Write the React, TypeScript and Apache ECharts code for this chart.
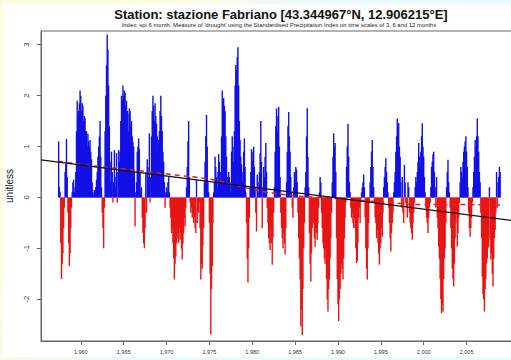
import React, { useEffect, useRef } from "react";
import * as echarts from "echarts";

// Monthly SPI-6 values, first value = June 1957
const START_YEAR = 1957;
const START_MONTH = 5; // 0-based month index (June)

const spi1957to1966 = [
  1.1, 0.2, 0.1, -0.9, -1.6, -1.3, -1.1,
  -0.6, -0.2, 0.5, 0.65, 1.15, 0.4, -0.3, -0.9, -1.35, -1.1, -0.6, -0.2,
  0.1, 0.3, 0.35, 0.1, 0.2, 0.5, 1.3, 1.9, 1.6, 1.7, 1.85, 2.1,
  2.0, 1.7, 1.85, 1.8, 1.5, 1.6, 1.55, 1.3, 1.3, 1.0, 1.25, 1.1,
  1.0, 1.13, 0.9, 0.75, 0.3, 0.1, 0.05, 0.15, 0.1, 0.2, 0.35, 0.5,
  0.8, 1.0, 1.2, 1.5, 0.8, 0.2, -0.3, -0.6, -1.0, -0.2, 1.3, 2.0,
  2.6, 3.2, 2.9, 2.2, 1.4, 0.7, 0.3, 0.9, 0.5, -0.1, 0.3, 0.93,
  0.4, 0.2, 0.87, -0.1, 0.5, 0.93, 0.7, 0.9, 1.5, 2.0, 1.9, 2.2,
  2.0, 2.1, 2.05, 1.8, 1.9, 1.7, 1.65, 1.3, 1.75, 1.7, 1.4, 1.5,
  1.2, 1.1, 1.0, 0.5, -0.57, 0.1, 0.3, 0.9, 1.0, 1.16, 0.95, 0.5,
];

const spi1967to1976 = [
  0.1, 0.2, -0.4, -0.7, -0.9, -1.0, -0.6, 0.5, -0.3, 0.75, 0.6, 0.4,
  1.26, -0.1, 0.4, 1.2, 1.7, 2.0, 1.8, 1.5, 1.85, 1.6, 1.45, 1.2,
  1.0, 1.13, 1.3, 1.7, 2.0, 1.6, 1.3, 0.9, 0.7, 0.3, -0.2, 0.1,
  0.2, 0.1, 0.3, 0.4, 0.1, -0.2, -0.4, -0.7, -0.6, -0.9, -1.2, -1.61,
  -1.3, -1.16, -0.9, -0.7, -0.8, -0.9, -0.6, -0.83, -0.7, -1.0, -1.22, -0.9,
  -0.7, -0.4, -0.57, -0.2, 0.2, 0.6, 1.1, 1.5, 0.4, -0.1, -0.3, -0.2,
  -0.4, -0.3, -0.5, -0.4, -0.6, -0.7, 0.35, -0.5, -0.3, -0.3, -0.1, -0.6,
  -1.61, -1.3, -1.4, -0.95, -0.6, 0.3, 0.7, 1.2, 1.62, 1.0, 0.3, 0.1,
  -0.5, -1.5, -2.69, -1.8, -1.35, -0.5, 0.1, 0.3, 0.8, 0.6, 0.4, 0.2,
  0.5, 0.85, 0.7, 0.3, 0.5, 1.2, 2.1, 1.9, 1.95, 1.8, 1.7, 1.2,
];

const spi1977to1986 = [
  0.8, 0.4, 0.2, 0.5, 0.4, 0.3, 0.1, 0.9, 1.2, 1.0, 0.7, 1.3,
  2.2, 2.6, 2.5, 2.76, 2.95, 2.2, 1.5, 1.13, 0.8, 0.65, 0.3, 0.5,
  0.9, 1.16, 0.6, 0.1, -0.5, -1.2, -1.67, -1.0, -0.4, 0.2, 0.5, 0.95,
  0.7, 0.9, 1.0, 0.6, 0.2, -0.3, -0.67, 0.45, 0.3, 0.1, 0.5, 0.87,
  1.5, 0.7, -0.6, 0.2, 0.6, 0.4, 0.8, 1.07, 0.5, -0.2, -0.5, -0.8,
  -0.9, -1.03, -0.6, -0.9, -1.32, -0.8, -0.3, 0.2, 0.9, 1.4, 1.75, 1.3,
  1.6, 1.78, 1.0, 0.4, -0.3, -0.6, -0.8, -1.0, -0.7, -0.9, -1.12, -0.6,
  0.3, 0.9, 1.4, 1.68, 1.2, 0.9, 0.4, 0.1, -0.2, -0.4, 0.2, 0.5,
  0.3, 0.6, 0.55, 0.3, -0.3, -0.8, -1.2, -1.61, -2.53, -2.2, -2.7, -1.8,
  -1.0, -0.5, 0.2, 0.5, 1.2, 1.75, 0.8, 0.2, -0.7, -1.3, -1.65, -1.1,
];

const spi1987to1996 = [
  -0.6, -0.3, -0.5, -0.8, -0.97, -0.6, -0.7, -0.83, -0.5, -0.2, 0.1, 0.4,
  0.3, -0.3, -0.6, -0.9, -1.0, -1.2, -1.3, -1.0, -1.6, -2.0, -2.24, -1.8,
  -1.61, -1.2, -0.8, -0.3, 0.3, 0.8, 1.26, 1.0, 1.07, 0.5, -0.8, -1.6,
  -2.1, -2.43, -2.0, -1.8, -1.5, -1.3, -1.4, -1.61, -1.2, -0.8, -0.4, -0.1,
  0.6, 1.0, 1.45, 0.8, 0.3, 0.1, -0.2, -0.4, -0.3, -0.5, -0.6, -0.4,
  -0.6, -1.0, -1.29, -1.25, -0.9, -0.4, -0.2, -0.5, -0.1, 0.1, 0.2, 0.3,
  0.45, 0.2, -0.4, -1.0, -1.4, -1.61, -1.0, -0.5, -0.1, 0.3, 0.6, 0.9,
  1.13, 0.6, 0.2, -0.1, -0.4, -0.5, -0.8, -0.64, -0.9, -1.1, -1.32, -1.0,
  -0.9, -0.6, -0.77, -0.3, 0.2, 0.4, 0.6, 0.77, 0.5, 0.3, 0.1, -0.2,
  -0.5, -0.8, -1.06, -0.7, -0.5, -0.3, 0.1, 0.3, 0.5, 0.9, 1.2, 1.55,
];

const spi1997to2008 = [
  1.3, 1.46, 1.0, 0.8, 0.3, -0.2, 0.4, -0.3, -0.5, 0.64, 0.3, -0.1,
  -0.2, -0.4, 0.3, 0.2, -0.3, -0.5, -0.6, -0.7, -0.83, -0.5, -0.3, -0.1,
  0.2, 0.4, 0.3, 0.5, 0.7, 1.07, 0.8, 0.6, 0.9, 1.2, 1.46, 1.0,
  0.8, 0.4, 0.1, -0.2, -0.4, -0.5, -0.7, -0.4, -0.2, -0.1, 0.2, 0.6,
  0.7, 0.85, 0.9, 0.5, 0.2, -0.2, 0.4, -0.4, -0.6, -0.97, -1.2, -1.6,
  -2.0, -2.27, -2.1, -2.24, -1.6, -1.2, -1.0, -0.5, 0.2, 0.5, 0.74, 0.3,
  0.1, -0.2, -0.6, -1.0, -1.4, -1.6, -1.75, -1.3, -0.8, -0.5, -0.3, -0.97,
  -0.7, -0.4, -0.1, 0.3, 0.6, 0.5, 0.4, 0.7, 0.9, 1.0, 1.1, 1.2,
  0.9, 0.6, 0.2, -0.3, -0.6, -0.77, -0.6, -0.4, -0.1, 0.2, 0.5, 0.8,
  1.13, 1.0, 1.2, 1.55, 1.2, 0.9, 0.5, 0.3, -0.3, -0.8, -1.56, -1.9,
  -2.0, -2.24, -1.8, -1.6, -1.3, -1.2, -1.0, -0.97, 0.2, -0.8, -1.22, -1.1,
  -1.5, -1.75, -1.2, -0.8, -0.64, -0.3, 0.5, -0.2, 0.3, 0.4, 0.6, 0.5,
];

// Linear trend (at the plot edges)
const trendYears = [1955.36, 2011.0];
const trendValues = [0.74, -0.47];

// Smoothed (lowess-like) red dashed curve
const smoothYears = [1957.4, 1960, 1963, 1966, 1970, 1975, 1978, 1980, 1984, 1988, 1992, 1996, 2000, 2004, 2008.9];
const smoothValues = [0.71, 0.65, 0.59, 0.54, 0.46, 0.36, 0.25, 0.16, 0.05, 0.0, -0.05, -0.1, -0.14, -0.14, -0.15];

const xTickYears = [1960, 1965, 1970, 1975, 1980, 1985, 1990, 1995, 2000, 2005];
const yTickValues = [-2, -1, 0, 1, 2, 3];

const TITLE = "Station: stazione Fabriano [43.344967°N, 12.906215°E]";
const SUBTITLE =
  "Index: spi 6 month. Measure of 'drought' using the Standardised Precipitation Index on time scales of 3, 6 and 12 months";
const Y_NAME = "unitless";

const FONT = "'Liberation Sans', Arial, Helvetica, sans-serif";

export default function App() {
  const ref = useRef<HTMLDivElement>(null);

  useEffect(() => {
    if (!ref.current) return;
    const chart = echarts.init(ref.current, undefined, { renderer: "svg" });

    const all = [
      ...spi1957to1966,
      ...spi1967to1976,
      ...spi1977to1986,
      ...spi1987to1996,
      ...spi1997to2008,
    ];
    const barData = all.map((v, i) => [START_YEAR + (START_MONTH + i) / 12, v]);
    const trendData = trendYears.map((y, i) => [y, trendValues[i]]);
    const smoothData = smoothYears.map((y, i) => [y, smoothValues[i]]);

    chart.setOption({
      animation: false,
      backgroundColor: "transparent",
      graphic: [
        {
          type: "text",
          x: 281,
          y: 14.5,
          style: {
            text: TITLE,
            fontFamily: FONT,
            fontSize: 13,
            fontWeight: "bold",
            fill: "#111",
            align: "center",
            verticalAlign: "middle",
          },
        },
        {
          type: "text",
          x: 279,
          y: 24.8,
          style: {
            text: SUBTITLE,
            fontFamily: FONT,
            fontSize: 5.9,
            fill: "#222",
            align: "center",
            verticalAlign: "middle",
          },
        },
      ],
      grid: {
        left: 41,
        top: 31,
        width: 477,
        height: 310,
        show: true,
        borderColor: "#666",
        borderWidth: 1,
        backgroundColor: "#fff",
        containLabel: false,
        outerBoundsMode: "none",
      },
      xAxis: {
        type: "value",
        min: 1955.36,
        max: 2011.0,
        axisLine: { show: true, onZero: false, lineStyle: { color: "#666", width: 1 } },
        axisTick: { show: true, customValues: xTickYears, length: 4, lineStyle: { color: "#666" } },
        axisLabel: {
          customValues: xTickYears,
          fontFamily: FONT,
          fontSize: 5.5,
          color: "#333",
          margin: 8,
        },
        splitLine: { show: false },
      },
      yAxis: {
        type: "value",
        min: -2.82,
        max: 3.27,
        name: Y_NAME,
        nameLocation: "middle",
        nameRotate: 90,
        nameGap: 21,
        nameTextStyle: { fontFamily: FONT, fontSize: 10, color: "#222" },
        axisLine: { show: true, lineStyle: { color: "#666", width: 1 } },
        axisTick: { show: true, customValues: yTickValues, length: 4, lineStyle: { color: "#666" } },
        axisLabel: {
          customValues: yTickValues,
          rotate: 90,
          fontFamily: FONT,
          fontSize: 7.5,
          color: "#333",
          margin: 11,
        },
        splitLine: { show: false },
      },
      series: [
        {
          type: "bar",
          data: barData,
          barWidth: 1.4,
          itemStyle: {
            color: (p: any) => (p.value[1] >= 0 ? "#1010e6" : "#e81414"),
          },
          z: 2,
        },
        {
          type: "line",
          data: trendData,
          showSymbol: false,
          lineStyle: { color: "#111", width: 1.2 },
          z: 4,
        },
        {
          type: "line",
          data: smoothData,
          smooth: true,
          showSymbol: false,
          lineStyle: { color: "#e02020", width: 1.5, type: [5, 4] },
          z: 3,
        },
      ],
    });

    return () => chart.dispose();
  }, []);

  return (
    <div
      style={{
        position: "fixed",
        left: 0,
        top: 0,
        width: 511,
        height: 360,
        overflow: "hidden",
        background: "linear-gradient(120deg, #fffbe0 22%, #e8fbff 48%)",
      }}
    >
      <div style={{ position: "absolute", left: 3, top: 4, right: 0, bottom: 3, background: "#fff" }} />
      <div ref={ref} style={{ position: "absolute", left: 0, top: 0, width: 511, height: 360 }} />
    </div>
  );
}
